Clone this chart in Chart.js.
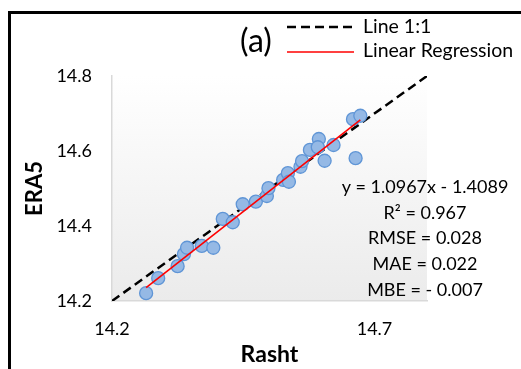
<!DOCTYPE html>
<html>
<head>
<meta charset="utf-8">
<script src="https://cdn.jsdelivr.net/npm/chart.js@4.4.0/dist/chart.umd.min.js"></script>
<style>
  body { margin: 0; background: #fff; }
  #wrap { width: 521px; height: 369px; }
</style>
</head>
<body>
<div id="wrap"><canvas id="scatterchart"></canvas></div>
<script>
// station (Rasht) vs ERA5
const rasht = [14.265, 14.288, 14.325, 14.337, 14.343, 14.371, 14.393, 14.411, 14.430, 14.449,
  14.474, 14.495, 14.498, 14.526, 14.535, 14.537, 14.559, 14.562, 14.577, 14.594,
  14.592, 14.605, 14.622, 14.659, 14.673, 14.664];
const era5 = [14.221, 14.261, 14.293, 14.325, 14.342, 14.347, 14.342, 14.419, 14.410, 14.458,
  14.465, 14.480, 14.501, 14.523, 14.541, 14.518, 14.558, 14.573, 14.603, 14.632,
  14.610, 14.574, 14.616, 14.685, 14.694, 14.581];

const axisRange = [14.2, 14.8];
const xTicks = [14.2, 14.7];
const yTicks = [14.2, 14.4, 14.6, 14.8];
const regression = [1.0967, -1.4089]; // slope, intercept
const statLines = ['y = 1.0967x - 1.4089', 'R\u00b2 = 0.967', 'RMSE = 0.028', 'MAE = 0.022', 'MBE = - 0.007'];
const legendLabels = ['Line 1:1', 'Linear Regression'];
const panelLabel = '(a)';

const FONT = 'Lato';

const points = rasht.map((v, i) => ({ x: v, y: era5[i] }));
const xMin = Math.min(...rasht), xMax = Math.max(...rasht);
const regLine = [xMin, xMax].map(v => ({ x: v, y: regression[0] * v + regression[1] }));
const oneToOne = axisRange.map(v => ({ x: v, y: v }));

// frame + plot area gradient
const backdrop = {
  id: 'backdrop',
  beforeDraw(chart) {
    const { ctx, chartArea: a } = chart;
    ctx.save();
    const g = ctx.createLinearGradient(0, a.top, 0, a.bottom);
    g.addColorStop(0, '#ffffff');
    g.addColorStop(1, '#ebebeb');
    ctx.fillStyle = g;
    ctx.fillRect(a.left, a.top, a.right - a.left, a.bottom - a.top);
    ctx.fillStyle = '#000';
    ctx.fillRect(8, 11, 513, 3);
    ctx.fillRect(8, 11, 3, 358);
    ctx.restore();
  }
};

// panel label, legend, stats
const notes = {
  id: 'notes',
  afterDraw(chart) {
    const { ctx } = chart;
    ctx.save();
    ctx.fillStyle = '#000';
    ctx.textBaseline = 'middle';
    ctx.textAlign = 'center';
    ctx.font = '32px ' + FONT;
    ctx.fillText(panelLabel, 256, 42);

    ctx.strokeStyle = '#000';
    ctx.lineWidth = 2.5;
    ctx.setLineDash([9, 5]);
    ctx.beginPath(); ctx.moveTo(287, 27); ctx.lineTo(354, 27); ctx.stroke();
    ctx.setLineDash([]);
    ctx.strokeStyle = '#ff0000';
    ctx.lineWidth = 1.5;
    ctx.beginPath(); ctx.moveTo(287, 52); ctx.lineTo(354, 52); ctx.stroke();

    ctx.textAlign = 'left';
    ctx.font = '19.5px ' + FONT;
    ctx.fillText(legendLabels[0], 363, 27);
    ctx.fillText(legendLabels[1], 363, 51);

    ctx.textAlign = 'center';
    ctx.font = '18px ' + FONT;
    statLines.forEach((s, i) => ctx.fillText(s, 425, 187 + i * 25.8));
    ctx.restore();
  }
};

const config = {
  type: 'scatter',
  data: {
    datasets: [{
        type: 'line',
        data: oneToOne,
        borderColor: '#000',
        borderWidth: 2.5,
        borderDash: [9, 5],
        pointRadius: 0,
        order: 3
      },
      {
        data: points,
        backgroundColor: '#95b9e5',
        borderColor: '#5f95d6',
        borderWidth: 1.3,
        pointRadius: 6.5,
        order: 2
      },
      {
        type: 'line',
        data: regLine,
        borderColor: '#ff0000',
        borderWidth: 1.6,
        pointRadius: 0,
        order: 1
      }
    ]
  },
  options: {
    responsive: true,
    maintainAspectRatio: false,
    animation: false,
    layout: {
      padding: { left: 10, top: 76, right: 94, bottom: 0 }
    },
    plugins: {
      legend: { display: false },
      tooltip: { enabled: false }
    },
    scales: {
      x: {
        type: 'linear',
        min: axisRange[0],
        max: axisRange[1],
        afterBuildTicks: s => { s.ticks = xTicks.map(v => ({ value: v })); },
        afterFit: s => { s.height = 68; },
        grid: { display: false, drawTicks: false },
        border: { display: true, color: '#d9d9d9', width: 1.5 },
        ticks: {
          color: '#000',
          font: { family: FONT, size: 18 },
          padding: 17,
          maxRotation: 0,
          callback: v => v.toFixed(1)
        },
        title: {
          display: true,
          text: 'Rasht',
          color: '#000',
          font: { family: FONT, size: 23, weight: 'bold' },
          padding: { top: 0, bottom: 1 }
        }
      },
      y: {
        type: 'linear',
        min: axisRange[0],
        max: axisRange[1],
        afterBuildTicks: s => { s.ticks = yTicks.map(v => ({ value: v })); },
        afterFit: s => { s.width = 102; },
        grid: { display: false, drawTicks: false },
        border: { display: true, color: '#d9d9d9', width: 1.5 },
        ticks: {
          color: '#000',
          font: { family: FONT, size: 18 },
          padding: 20,
          callback: v => v.toFixed(1)
        },
        title: {
          display: true,
          text: 'ERA5',
          color: '#000',
          font: { family: FONT, size: 22, weight: 'bold' },
          padding: { top: 12, bottom: 0 }
        }
      }
    }
  },
  plugins: [backdrop, notes]
};

const scatterChart = new Chart(document.getElementById('scatterchart'), config);
</script>
</body>
</html>
